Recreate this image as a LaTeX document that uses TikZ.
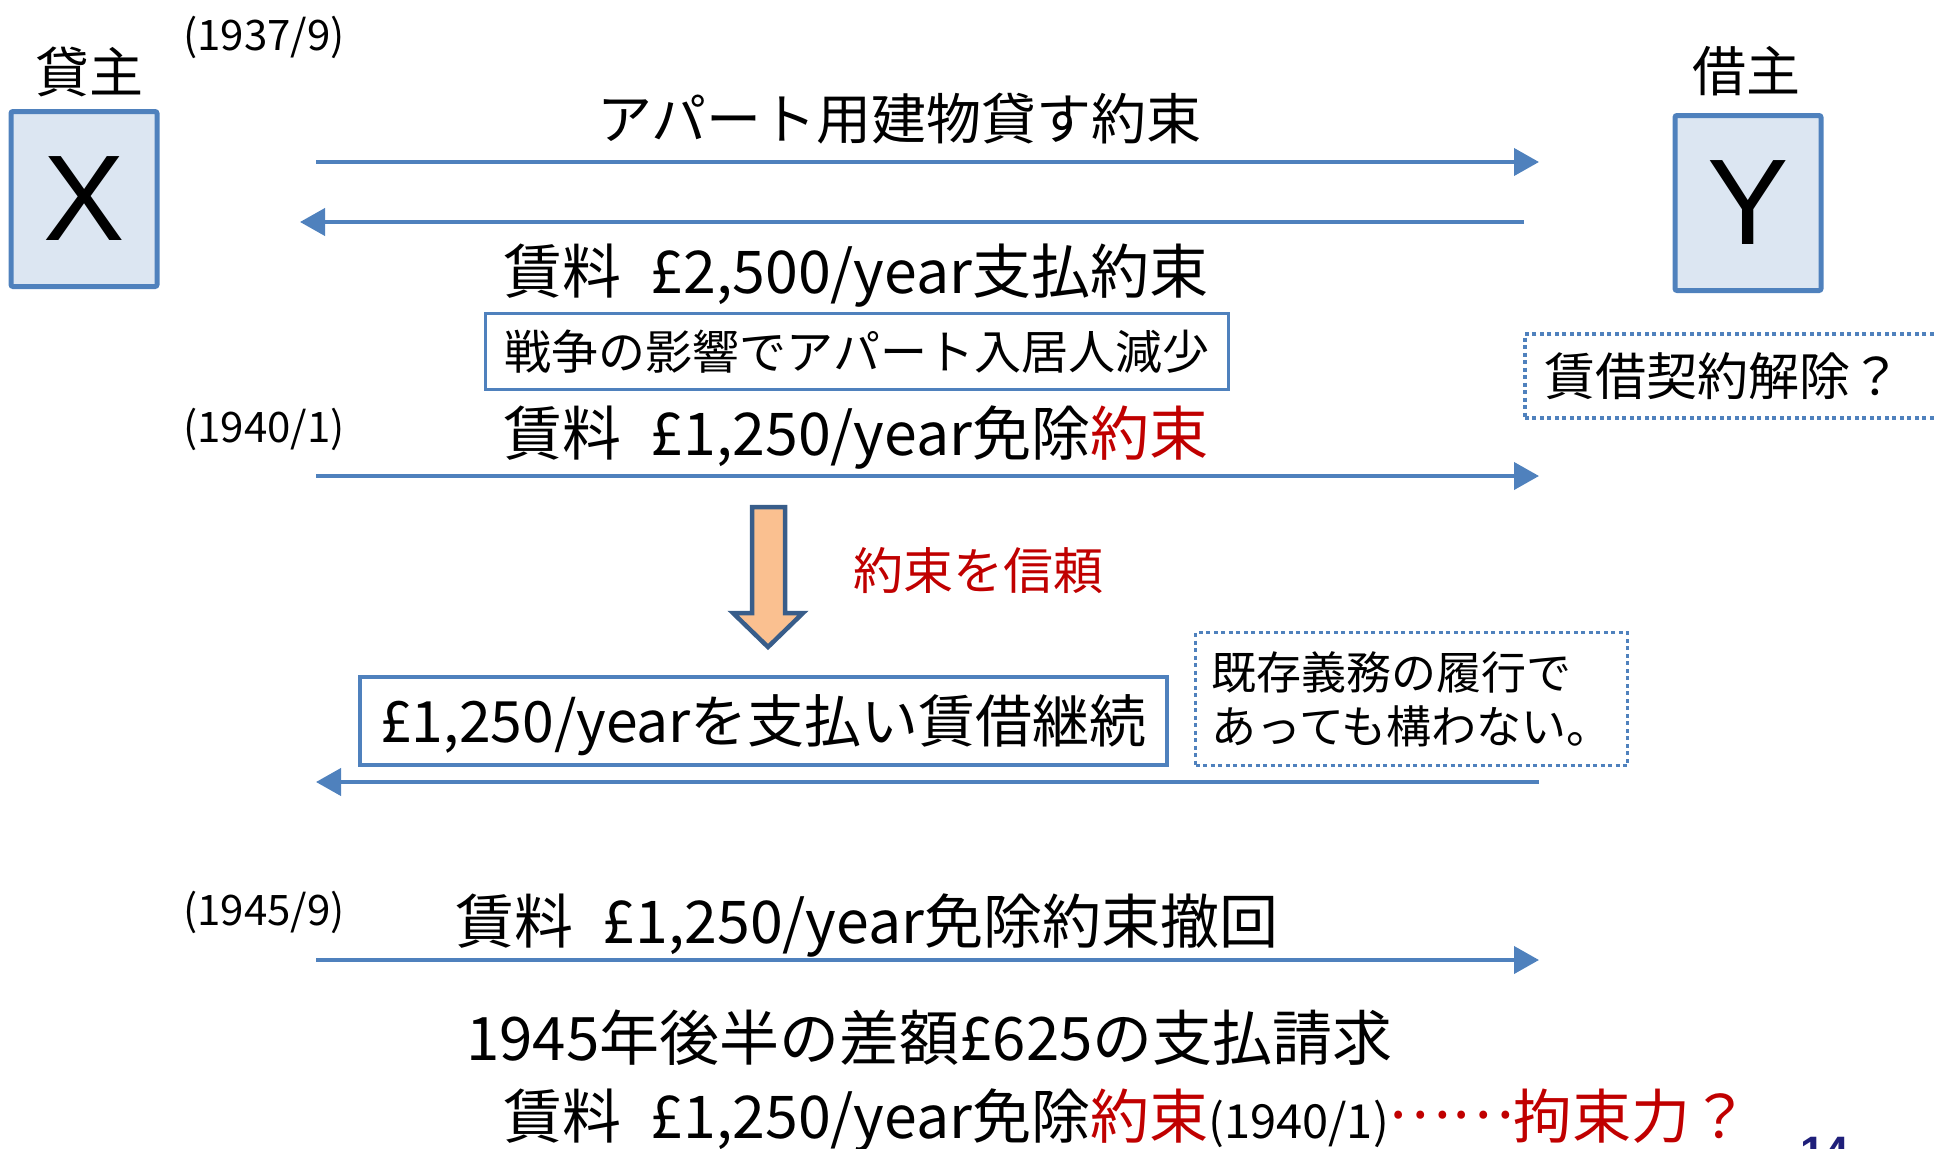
\documentclass[tikz,border=0pt]{standalone}
\usepackage{fontspec}
\setmainfont{Noto Sans CJK JP}
\newfontfamily\arialfont{Liberation Sans}
\usetikzlibrary{arrows.meta}
\definecolor{lineblue}{HTML}{4F81BD}
\definecolor{boxfill}{HTML}{DCE6F2}
\definecolor{darkred}{HTML}{C00000}
\definecolor{arrowedge}{HTML}{385D8A}
\definecolor{arrowfill}{HTML}{FAC090}
\definecolor{pagenum}{HTML}{1F1F7A}
\newcommand\fsz[2][]{\fontsize{#2}{#2}\selectfont}
\begin{document}
\begin{tikzpicture}[x=1pt,y=-1pt,
  party/.style={draw=lineblue, line width=5pt, fill=boxfill, rounded corners=2pt,
    minimum width=146pt, minimum height=175pt, inner sep=0pt, font=\arialfont\fsz{122}},
  flow/.style={draw=lineblue, line width=4pt, -{Triangle[length=25pt,width=27pt]}},
  txt/.style={inner sep=0pt, anchor=base west},
  lbl/.style={inner sep=0pt, anchor=west, font=\fsz{42}},
  solidbox/.style={draw=lineblue, inner sep=0pt},
  dotbox/.style={draw=lineblue, line width=3.5pt, dash pattern=on 4pt off 3.5pt},
]
\useasboundingbox (0,0) rectangle (1934,1148);

% parties
\node[inner sep=0pt, font=\fsz{54}] (lenderlbl) at (89,72) {貸主};
\node[inner sep=0pt, font=\fsz{54}] (borrowerlbl) at (1746,71) {借主};
\node[party] (X) at (84,199) {X};
\node[party] (Y) at (1748,203) {Y};

% dates
\node[lbl] (d1) at (183,37) {(1937/9)};
\node[lbl] (d2) at (183,429) {(1940/1)};
\node[lbl] (d3) at (183,912) {(1945/9)};

% texts
\node[txt, font=\fsz{55}] (t1) at (597,139) {アパート用建物貸す約束};
\node[txt, font=\fsz{59}] (t2) at (503,293) {賃料\hspace{0.5em}£2,500/year支払約束};
\node[solidbox, line width=3pt, minimum width=743pt, minimum height=76pt, font=\fsz{47}] (war) at (857,351.5) {戦争の影響でアパート入居人減少};
\node[txt, font=\fsz{59}] (t3) at (503,455) {賃料\hspace{0.5em}£1,250/year免除\textcolor{darkred}{約束}};
\node[dotbox, anchor=west, text width=400pt, align=left, inner xsep=20pt, inner ysep=0pt,
  minimum height=84pt, font=\fsz{51}] (cancel) at (1523,376) {賃借契約解除？};

\node[inner sep=0pt, anchor=west, font=\fsz{50}, text=darkred] (trust) at (853,571) {約束を信頼};

\node[solidbox, line width=4pt, minimum width=807pt, minimum height=88pt,
  text height=47pt, text depth=4pt, font=\fsz{57}] (pay) at (763.5,721) {£1,250/yearを支払い賃借継続};
\node[dotbox, minimum width=432pt, minimum height=133pt, inner sep=0pt, align=left,
  font=\fontsize{45}{54}\selectfont] (exist) at (1411.5,699) {既存義務の履行で\\あっても構わない。};

\node[txt, font=\fsz{59}] (t4) at (455,943) {賃料\hspace{0.5em}£1,250/year免除約束撤回};
\node[txt, font=\fsz{60}] (t5) at (466,1060) {1945年後半の差額£625の支払請求};
\node[txt, font=\fsz{59}] (t6) at (503,1138) {賃料\hspace{0.5em}£1,250/year免除\textcolor{darkred}{約束}{\fsz{47}(1940/1)}\textcolor{darkred}{\raisebox{0.33em}{……}拘束力？}};

\node[anchor=north west, inner sep=0pt, font=\arialfont\bfseries\fsz{44}, text=pagenum] (pg) at (1800,1137) {14};

% arrows
\coordinate (a1s) at (316,162); \coordinate (a1e) at (1539,162);
\coordinate (a2s) at (1524,222); \coordinate (a2e) at (300,222);
\coordinate (a3s) at (316,476); \coordinate (a3e) at (1539,476);
\coordinate (a4s) at (1539,782); \coordinate (a4e) at (316,782);
\coordinate (a5s) at (316,960); \coordinate (a5e) at (1539,960);
\draw[flow] (a1s) -- (a1e);
\draw[flow] (a2s) -- (a2e);
\draw[flow] (a3s) -- (a3e);
\draw[flow] (a4s) -- (a4e);
\draw[flow] (a5s) -- (a5e);

% block arrow
\draw[draw=arrowedge, fill=arrowfill, line width=4.5pt, line join=miter]
  (752,507) -- (785,507) -- (785,613) -- (803,613) -- (768,647) -- (733,613) -- (752,613) -- cycle;
\end{tikzpicture}
\end{document}
